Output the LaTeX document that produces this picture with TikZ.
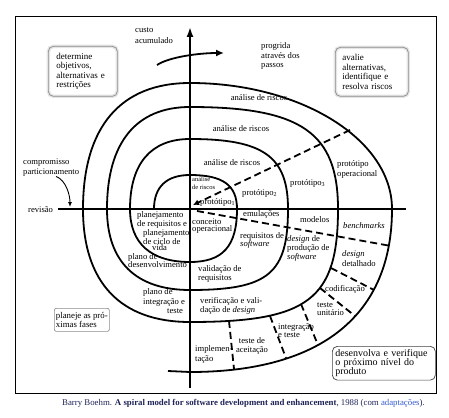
\documentclass[tikz,border=0pt]{standalone}
\usepackage{fontspec}
\setmainfont{Liberation Serif}
\usepackage{tikz}
\usetikzlibrary{arrows.meta}
\usetikzlibrary{positioning}
\usepackage{xcolor}
\definecolor{boxline}{RGB}{140,140,140}
\definecolor{capnavy}{RGB}{30,35,85}
\definecolor{linkblue}{RGB}{50,90,210}
\newcommand\lblfont[1]{\fontsize{8.6}{#1}\selectfont}

\begin{document}
\begin{tikzpicture}[x=1pt, y=-1pt,
	spiral/.style={line width=1.8pt},
	axisline/.style={line width=1.8pt},
	dashline/.style={line width=1.8pt, dash pattern=on 7pt off 4pt},
	lbl/.style={inner sep=0pt, align=left, anchor=north west, font=\lblfont{9}},
	one/.style={inner sep=0pt, anchor=west, font=\lblfont{9}},
	note/.style={draw=boxline, rounded corners=5pt, line width=0.7pt, align=left,
		inner xsep=7pt, inner ysep=3pt, anchor=north west, font=\fontsize{9}{9.5}\selectfont},
	halo/.style={preaction={draw=black!10, line width=3.5pt}}]
	\useasboundingbox (0,0) rectangle (449,417);
	% frame
	\draw[line width=0.8pt] (15,16) rectangle (436,393);
	% axes
	\coordinate (vbot) at (190,388);
	\coordinate (vtop) at (190,27);
	\coordinate (hl) at (58,209);
	\coordinate (hr) at (406,209);
	\draw[axisline, -{Latex[length=10pt,width=7pt]}] (vbot) -- (vtop);
	\draw[axisline] (hl) -- (hr);
	% spiral
	\draw[spiral] (154,209) .. controls (154,186.9) and (166.6,175) .. (190,175)
		.. controls (222.9,175) and (237,185.2) .. (237,209)
		.. controls (237,246.1) and (222.9,262) .. (190,262)
		.. controls (151,262) and (130,243.5) .. (130,209)
		.. controls (130,163.5) and (151,139) .. (190,139)
		.. controls (263.5,139) and (288,156.5) .. (288,209)
		.. controls (288,273.8) and (268.4,290) .. (190,290)
		.. controls (136,290) and (107,261.7) .. (107,209)
		.. controls (107,142.7) and (136,107) .. (190,107)
		.. controls (301,107) and (338,132.5) .. (338,209)
		.. controls (338,299.4) and (308.4,322) .. (190,322)
		.. controls (120.4,322) and (83,282.5) .. (83,209)
		.. controls (83,127.1) and (120.4,83) .. (190,83)
		.. controls (301.1,83) and (392,139.7) .. (392,209)
		.. controls (392,315) and (321.3,372) .. (190,372)
		-- (168,371);
	% progress arrow
	\coordinate (pgA) at (157,65);
	\coordinate (pgB) at (224,53);
	\draw[axisline, -{Latex[length=8pt,width=7pt]}] (pgA) .. controls +(12,-8) and +(-25,0) .. (pgB);
	% dashed dividers
	\coordinate (rk0) at (193,205);
	\coordinate (rk1) at (350,130);
	\draw[dashline, -{Latex[length=6pt,width=6pt]}] (rk1) -- (rk0);
	\coordinate (dv0) at (197,211);
	\coordinate (dv1) at (391,246);
	\draw[dashline] (dv0) -- (dv1);
	\foreach \xa/\ya/\xb/\yb in {331/268/374/290, 320/288/355/316, 301/304/318/345, 270/316/286/358, 229/321/234/369}
		\draw[dashline] (\xa,\ya) -- (\xb,\yb);
	% boxes
	\node[note, halo, text width=53pt, minimum height=50pt, inner xsep=8pt] (detobj) at (48,46) {determine\\objetivos,\\alternativas e\\restrições};
	\node[note, halo, text width=59pt, minimum height=49pt] (avalie) at (335,47) {avalie\\alternativas,\\identifique e\\resolva riscos};
	\node[note, rounded corners=2pt, minimum width=55pt, minimum height=23pt, inner xsep=1pt, font=\fontsize{8.8}{9.5}\selectfont] (planeje) at (54,308) {planeje as pró-\\ximas fases};
	\node[note, draw=black!75, text width=97pt, minimum height=30pt, inner xsep=3pt, font=\fontsize{10}{9.3}\selectfont] (desenv) at (332,346) {desenvolva e verifique\\o próximo nível do\\produto};
	% outer labels
	\node[lbl, font=\lblfont{10.5}] (custo) at (135,27.5) {custo\\acumulado};
	\node[lbl, font=\lblfont{9.5}] (progr) at (261,42.5) {progrida\\através dos\\passos};
	\node[lbl, font=\lblfont{10}] (comp) at (23,158.5) {compromisso\\particionamento};
	\node[one] (rev) at (28,210) {revisão};
	\coordinate (revpt) at (70,207);
	\draw[line width=0.9pt, -{Latex[length=5pt,width=4pt]}] ([xshift=5pt]comp.south) .. controls +(10,4) and +(0,-12) .. (revpt);
	% upper right quadrant
	\node[inner sep=0pt, font=\lblfont{9}] (ar4) at (259,98) {análise de riscos};
	\node[inner sep=0pt, font=\lblfont{9}] (ar3) at (241,129) {análise de riscos};
	\node[inner sep=0pt, font=\lblfont{9}] (ar2) at (232,163) {análise de riscos};
	\node[lbl, font=\fontsize{6.5}{8}\selectfont] (ar1) at (192,176.5) {análise\\de riscos};
	\node[one] (pt1) at (200,202) {protótipo\textsubscript{1}};
	\node[one] (pt2) at (242,193) {protótipo\textsubscript{2}};
	\node[one] (pt3) at (290,183) {protótipo\textsubscript{3}};
	\node[lbl, font=\lblfont{10}] (ptop) at (337,160.5) {protótipo\\operacional};
	% lower right quadrant
	\node[lbl, font=\lblfont{7.5}] (conc) at (192,218.5) {conceito\\operacional};
	\node[one] (emul) at (243,214) {emulações};
	\node[lbl, font=\lblfont{8}] (reqs) at (240,232.5) {requisitos de\\\textit{software}};
	\node[one] (mod) at (300,220) {modelos};
	\node[one] (bench) at (343,226) {\textit{benchmarks}};
	\node[lbl, font=\lblfont{7.5}] (dprod) at (287,235.5) {\textit{design} de\\produção de\\\textit{software}};
	\node[lbl, font=\lblfont{9.5}] (ddet) at (342,250.5) {\textit{design}\\detalhado};
	\node[one] (cod) at (325,289) {codificação};
	\node[lbl, font=\lblfont{8}] (tun) at (317,302.5) {teste\\unitário};
	\node[lbl, font=\lblfont{8}] (integ) at (278,323.5) {integração\\e teste};
	\node[lbl, align=center, anchor=north, font=\lblfont{9}] (aceit) at (252,337.5) {teste de\\aceitação};
	\node[lbl, font=\lblfont{10}] (impl) at (195,345.5) {implemen-\\tação};
	\node[lbl, font=\lblfont{8.5}] (verif) at (200,297.5) {verificação e vali-\\dação de \textit{design}};
	\node[lbl, font=\lblfont{9}] (valid) at (198,265.5) {validação de\\requisitos};
	% lower left quadrant
	\node[lbl, font=\lblfont{6.4}] (plreq) at (137,211.5) {planejamento\\de requisitos e\\\hspace*{6pt}planejamento\\\hspace*{6pt}de ciclo de\\\hspace*{15pt}vida};
	\node[lbl, font=\lblfont{7}] (pldes) at (128,253) {plano de\\desenvolvimento};
	\node[lbl, font=\lblfont{9.5}] (plint) at (143,288.5) {plano de\\integração e\\\hspace*{24pt}teste};
	% caption
	\node[one, font=\fontsize{8.8}{10}\selectfont, text=capnavy] (cap) at (62,403) {Barry Boehm. \textbf{A spiral model for software development and enhancement}, 1988 (com {\color{linkblue}adaptações}).};
\end{tikzpicture}
\end{document}
